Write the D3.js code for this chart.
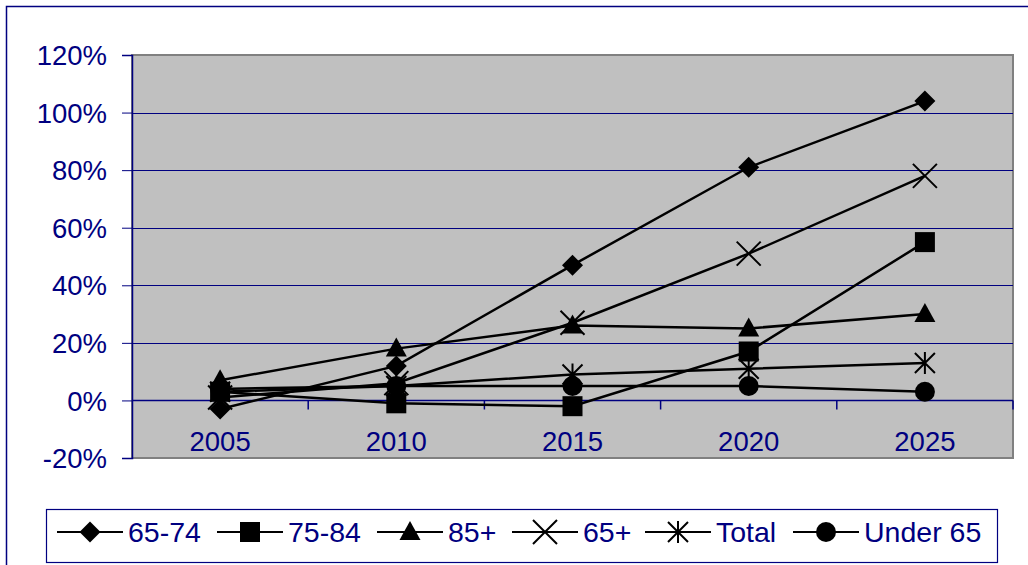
<!DOCTYPE html>
<html>
<head>
<meta charset="utf-8">
<script src="https://cdn.jsdelivr.net/npm/d3@7.9.0/dist/d3.min.js"></script>
<style>
  html, body { margin: 0; padding: 0; background: #fff; }
  svg { display: block; font-family: "Liberation Sans", Arial, sans-serif; }
</style>
</head>
<body>
<svg id="chart" width="1028" height="565"></svg>
<script>
const years = ['2005', '2010', '2015', '2020', '2025'];
const yTicks = [-20, 0, 20, 40, 60, 80, 100, 120];

const age6574 = [-3, 12, 47, 81, 104];
const age7584 = [3, -1, -2, 17, 55];
const age85plus = [7, 18, 26, 25, 30];
const age65plus = [1, 6, 27, 51, 78];
const total = [3, 5, 9, 11, 13];
const under65 = [4, 5, 5, 5, 3];

const seriesNames = ['65-74', '75-84', '85+', '65+', 'Total', 'Under 65'];
const seriesValues = [age6574, age7584, age85plus, age65plus, total, under65];
const seriesMarkers = ['diamond', 'square', 'triangle', 'x', 'asterisk', 'circle'];

const navy = '#000080';
const svg = d3.select('#chart');

const plot = { left: 132, top: 55, right: 1013, bottom: 458 };

const x = d3.scaleBand().domain(years).range([plot.left, plot.right]);
const y = d3.scaleLinear().domain([-20, 120]).range([plot.bottom, plot.top]);

// outer chart frame (only left and top edges are visible)
svg.append('path')
  .attr('d', 'M6.5,565V6.5H1028')
  .attr('fill', 'none')
  .attr('stroke', navy)
  .attr('stroke-width', 1.5);

// plot area
svg.append('rect')
  .attr('x', plot.left)
  .attr('y', plot.top)
  .attr('width', plot.right - plot.left)
  .attr('height', plot.bottom - plot.top)
  .attr('fill', '#c0c0c0')
  .attr('stroke', '#808080')
  .attr('stroke-width', 2);

// gridlines
svg.append('g')
  .selectAll('line')
  .data(yTicks.filter((d) => d !== -20 && d !== 120))
  .join('line')
  .attr('x1', plot.left)
  .attr('x2', plot.right)
  .attr('y1', (d) => Math.round(y(d)) + 0.5)
  .attr('y2', (d) => Math.round(y(d)) + 0.5)
  .attr('stroke', navy)
  .attr('stroke-width', 1);

// y axis
const yAxis = svg.append('g')
  .attr('transform', `translate(${plot.left},0)`)
  .call(d3.axisLeft(y).tickValues(yTicks).tickFormat((d) => `${d}%`).tickSize(10).tickPadding(15));
yAxis.select('.domain').attr('stroke', navy).attr('stroke-width', 1.5);
yAxis.selectAll('.tick line').attr('stroke', navy);
yAxis.selectAll('.tick text')
  .attr('fill', navy)
  .attr('font-size', 27.5)
  .attr('font-family', '"Liberation Sans", Arial, sans-serif')
  .attr('dy', '0.35em');

// x axis along 0%
const y0 = Math.round(y(0)) + 0.5;
svg.append('line')
  .attr('x1', plot.left).attr('x2', plot.right)
  .attr('y1', y0).attr('y2', y0)
  .attr('stroke', navy).attr('stroke-width', 1.5);
svg.append('g')
  .selectAll('line')
  .data(years)
  .join('line')
  .attr('x1', (d) => x(d) + x.bandwidth())
  .attr('x2', (d) => x(d) + x.bandwidth())
  .attr('y1', y0)
  .attr('y2', y0 + 9)
  .attr('stroke', navy)
  .attr('stroke-width', 1.5);
svg.append('g')
  .selectAll('text')
  .data(years)
  .join('text')
  .attr('x', (d) => x(d) + x.bandwidth() / 2)
  .attr('y', y0 + 50)
  .attr('text-anchor', 'middle')
  .attr('fill', navy)
  .attr('font-size', 27.5)
  .text((d) => d);

// marker shapes
function markerPath(type) {
  const p = d3.path();
  if (type === 'diamond') {
    p.moveTo(0, -10.5); p.lineTo(10.5, 0); p.lineTo(0, 10.5); p.lineTo(-10.5, 0); p.closePath();
  } else if (type === 'square') {
    p.rect(-10, -10, 20, 20);
  } else if (type === 'triangle') {
    p.moveTo(0, -11); p.lineTo(10.5, 8); p.lineTo(-10.5, 8); p.closePath();
  } else if (type === 'x') {
    p.moveTo(-12, -12); p.lineTo(12, 12); p.moveTo(12, -12); p.lineTo(-12, 12);
  } else if (type === 'asterisk') {
    p.moveTo(-10, -10); p.lineTo(10, 10); p.moveTo(10, -10); p.lineTo(-10, 10);
    p.moveTo(0, -11); p.lineTo(0, 11);
  }
  return p.toString();
}

function drawMarker(g, type, cx, cy) {
  if (type === 'circle') {
    g.append('circle').attr('cx', cx).attr('cy', cy).attr('r', 10).attr('fill', '#000');
  } else if (type === 'x' || type === 'asterisk') {
    g.append('path').attr('d', markerPath(type))
      .attr('transform', `translate(${cx},${cy})`)
      .attr('fill', 'none').attr('stroke', '#000').attr('stroke-width', 2);
  } else {
    g.append('path').attr('d', markerPath(type))
      .attr('transform', `translate(${cx},${cy})`)
      .attr('fill', '#000');
  }
}

const line = d3.line()
  .x((d, i) => x(years[i]) + x.bandwidth() / 2)
  .y((d) => y(d));

seriesValues.forEach((values, idx) => {
  const g = svg.append('g');
  g.append('path')
    .attr('d', line(values))
    .attr('fill', 'none')
    .attr('stroke', '#000')
    .attr('stroke-width', 2.5);
  values.forEach((v, i) => {
    drawMarker(g, seriesMarkers[idx], x(years[i]) + x.bandwidth() / 2, y(v));
  });
});

// legend
const legend = svg.append('g');
legend.append('rect')
  .attr('x', 46.5).attr('y', 509.5)
  .attr('width', 951).attr('height', 53)
  .attr('fill', '#fff')
  .attr('stroke', navy)
  .attr('stroke-width', 1.2);

const legendStarts = [57, 217, 377, 512, 645, 793];
const legendY = 532;
seriesNames.forEach((name, idx) => {
  const lx = legendStarts[idx];
  legend.append('line')
    .attr('x1', lx).attr('x2', lx + 66)
    .attr('y1', legendY).attr('y2', legendY)
    .attr('stroke', '#000').attr('stroke-width', 2);
  drawMarker(legend, seriesMarkers[idx], lx + 33, legendY);
  legend.append('text')
    .attr('x', lx + 71)
    .attr('y', legendY)
    .attr('dy', '0.36em')
    .attr('fill', navy)
    .attr('font-size', 28.5)
    .text(name);
});
</script>
</body>
</html>
